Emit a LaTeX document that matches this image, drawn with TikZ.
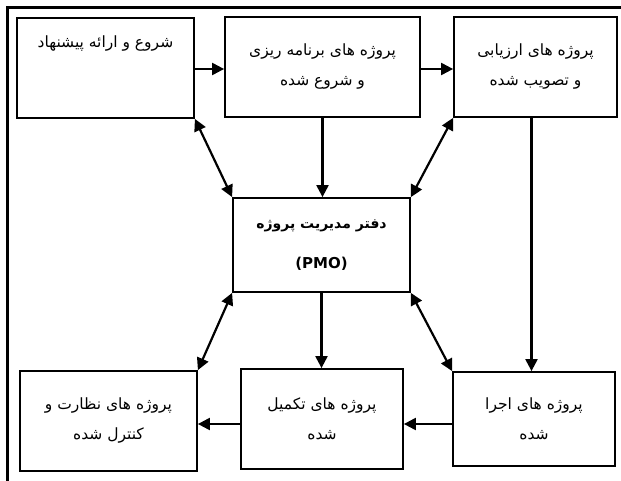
\documentclass[tikz,border=0pt]{standalone}
\usepackage{fontspec}
\usepackage{tikz}
\usetikzlibrary{arrows.meta, positioning, calc}
\TeXXeTstate=1
\newfontfamily\arabicfont[Script=Arabic]{DejaVu Sans}
\newcommand{\fa}[1]{{\arabicfont\beginR #1\endR}}

\begin{document}
\begin{tikzpicture}[
    x=1pt, y=-1pt,
    txt/.style={font=\fontsize{15.5}{30}\selectfont},
    box/.style={rectangle, draw=black, line width=1.8pt, align=center, inner sep=0pt, txt},
    arrow/.style={-{Triangle[length=12pt,width=12pt]}, line width=2.2pt},
    both/.style={{Triangle[length=12pt,width=12pt]}-{Triangle[length=12pt,width=12pt]}, line width=2.2pt}
]
    \useasboundingbox (0,0) rectangle (621,481);
    \draw[line width=2.4pt] (621,7.5) -- (7.5,7.5) -- (7.5,481);

    \node[box, minimum width=177pt, minimum height=100pt,
          label={[txt, yshift=24pt]center:\fa{شروع و ارائه پیشنهاد}}] (start) at (105.5,68) {};
    \node[box, minimum width=195pt, minimum height=100pt] (plan) at (322.5,67) {\fa{پروژه های برنامه ریزی}\\ \fa{و شروع شده}};
    \node[box, minimum width=163pt, minimum height=100pt] (eval) at (535.5,67) {\fa{پروژه های ارزیابی}\\ \fa{و تصویب شده}};

    \node[box, minimum width=177pt, minimum height=94pt, font=\fontsize{14}{40}\selectfont\bfseries] (pmo) at (321.5,245) {\fa{دفتر مدیریت پروژه}\\ {\arabicfont\fontsize{15}{40}\selectfont (PMO)}};

    \node[box, minimum width=177pt, minimum height=100pt] (ctrl) at (108.5,421) {\fa{پروژه های نظارت و}\\ \fa{کنترل شده}};
    \node[box, minimum width=162pt, minimum height=100pt] (done) at (322,419) {\fa{پروژه های تکمیل}\\ \fa{شده}};
    \node[box, minimum width=162pt, minimum height=94pt] (exec) at (534,419) {\fa{پروژه های اجرا}\\ \fa{شده}};

    % top row
    \draw[arrow] (start.east |- 0,69) -- (plan.west |- 0,69);
    \draw[arrow] (plan.east |- 0,69) -- (eval.west |- 0,69);
    \draw[arrow] (plan.south) -- (plan.south |- pmo.north);
    \draw[both] (start.south east) -- (pmo.north west);
    \draw[both] (eval.south west) -- (pmo.north east);
    \draw[arrow] ($(eval.south)+(-4,0)$) -- ($(eval.south |- exec.north)+(-4,0)$);

    % bottom row
    \draw[arrow] (pmo.south) -- (pmo.south |- done.north);
    \draw[both] (pmo.south west) -- (ctrl.north east);
    \draw[both] (pmo.south east) -- (exec.north west);
    \draw[arrow] (exec.west |- 0,424) -- (done.east |- 0,424);
    \draw[arrow] (done.west |- 0,424) -- (ctrl.east |- 0,424);

\end{tikzpicture}
\end{document}
